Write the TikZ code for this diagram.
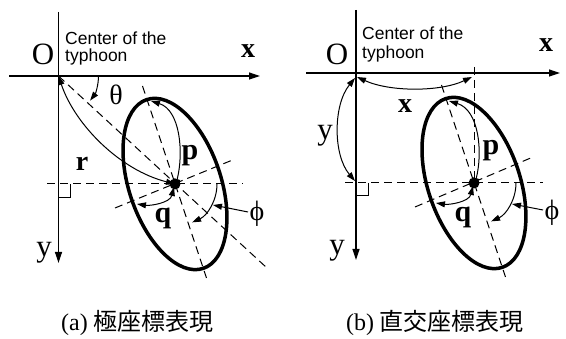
\documentclass[tikz,border=0pt]{standalone}
\usepackage{fontspec}
\setmainfont{Liberation Serif}
\newfontfamily\sansf{Liberation Sans}
\newfontfamily\cjk{Noto Sans CJK JP}
\usetikzlibrary{arrows.meta,calc}
\begin{document}
\begin{tikzpicture}[x=1pt,y=-1pt,
  axis/.style={line width=1.2pt,-{Triangle[length=11pt,width=7pt]}},
  dsh/.style={line width=1pt,dash pattern=on 8pt off 5pt},
  ell/.style={line width=3.5pt},
  dim/.style={line width=1pt,{Triangle[length=9pt,width=6pt]}-{Triangle[length=9pt,width=6pt]}},
  ang/.style={line width=1pt,-{Triangle[length=9pt,width=6pt]}},
  plainline/.style={line width=1pt},
  lab/.style={font=\fontsize{31}{33}\selectfont,inner sep=0pt,anchor=base},
  glab/.style={font=\fontsize{28}{30}\selectfont,inner sep=0pt,anchor=base},
  blab/.style={font=\fontsize{30}{32}\selectfont\bfseries,inner sep=0pt,anchor=base},
  bslab/.style={font=\fontsize{28}{30}\selectfont\bfseries,inner sep=0pt,anchor=base},
  stxt/.style={font=\sansf\fontsize{17.5}{20}\selectfont,inner sep=0pt,anchor=base west},
  captxt/.style={font=\fontsize{24}{26}\selectfont,inner sep=0pt,anchor=base}]
\useasboundingbox (0,0) rectangle (566,339);

% ---------------- left panel (a)
\coordinate (O1) at (58.5,76);
\coordinate (C1) at (175,184);
\coordinate (xs1) at (9,76);   \coordinate (xe1) at (260,76);
\coordinate (ys1) at (58.5,12); \coordinate (ye1) at (58.5,263);
\coordinate (hs1) at (47,184); \coordinate (he1) at (243,184);
\coordinate (ma1) at (142.5,86); \coordinate (mb1) at (206.5,278);
\coordinate (na1) at (115,208); \coordinate (nb1) at (235,159);
\coordinate (de1) at (267,268);
\coordinate (top1) at (151,101);
\coordinate (qe1) at (137,204);
\coordinate (fl1) at (248,212); \coordinate (ft1) at (213,205);

\draw[axis] (xs1) -- (xe1);
\draw[axis] (ys1) -- (ye1);
\draw[dsh] (hs1) -- (he1);
\draw[dsh] (ma1) -- (mb1);
\draw[dsh] (na1) -- (nb1);
\draw[dsh] (O1) -- (de1);
\draw[ell, rotate around={18.5:(C1)}] (C1) ellipse [x radius=46, y radius=89];
\fill (C1) circle[radius=5.5];
\draw[plainline] (58.5,198) -- (70,198) -- (70,184);

\draw[ang] ([shift={(40,0)}]O1) arc[start angle=0,end angle=38,radius=40];
\draw[dim] (O1) .. controls (75,125) and (120,170) .. (C1);
\draw[dim] (top1) .. controls (180,110) and (184,152) .. ([yshift=-4pt]C1);
\draw[dim] ([shift={(-1,3)}]C1) .. controls (170,203) and (150,206) .. (qe1);
\draw[ang] ([shift={(42,0)}]C1) arc[start angle=0,end angle=66,radius=42];
\draw[ang] (fl1) -- (ft1);

\node[lab]   (lO1) at (43,65) {O};
\node[bslab] (lx1) at (248,58) {x};
\node[lab]   (ly1) at (44,257) {y};
\node[glab]  (lt1) at (116,105) {θ};
\node[bslab] (lr1) at (82,171) {r};
\node[blab]  (lp1) at (190,160) {p};
\node[blab]  (lq1) at (163,223) {q};
\node[glab]  (lf1) at (257,221) {ϕ};
\node[stxt] (c1a) at (65,45) {Center of the};
\node[stxt] (c1b) at (65,62) {typhoon};
\node[captxt] (capa) at (137.5,331) {(a) {\cjk 極座標表現}};

% ---------------- right panel (b)
\coordinate (O2) at (356,73);
\coordinate (C2) at (474,183);
\coordinate (xs2) at (306,73);  \coordinate (xe2) at (560,73);
\coordinate (ys2) at (356,10);  \coordinate (ye2) at (356,260);
\coordinate (hs2) at (345,183); \coordinate (he2) at (543,183);
\coordinate (vs2) at (474,67);
\coordinate (ma2) at (441.5,85); \coordinate (mb2) at (505.5,277);
\coordinate (na2) at (415,207); \coordinate (nb2) at (533,157);
\coordinate (top2) at (449,101);
\coordinate (qe2) at (436,203);
\coordinate (xa2) at (357,77); \coordinate (xb2) at (472,77);
\coordinate (ya2) at (355,78); \coordinate (yb2) at (355,181);
\coordinate (fl2) at (543,210); \coordinate (ft2) at (512,204);

\draw[axis] (xs2) -- (xe2);
\draw[axis] (ys2) -- (ye2);
\draw[dsh] (hs2) -- (he2);
\draw[dsh] (vs2) -- (C2);
\draw[dsh] (ma2) -- (mb2);
\draw[dsh] (na2) -- (nb2);
\draw[ell, rotate around={18.5:(C2)}] (C2) ellipse [x radius=46, y radius=89];
\fill (C2) circle[radius=5.5];
\draw[plainline] (356,196) -- (368,196) -- (368,183);

\draw[dim] (xa2) .. controls (390,92) and (440,92) .. (xb2);
\draw[dim] (ya2) .. controls (333,105) and (333,155) .. (yb2);
\draw[dim] (top2) .. controls (479,110) and (483,152) .. ([yshift=-4pt]C2);
\draw[dim] ([shift={(-1,3)}]C2) .. controls (469,202) and (449,205) .. (qe2);
\draw[ang] ([shift={(42,0)}]C2) arc[start angle=0,end angle=66,radius=42];
\draw[ang] (fl2) -- (ft2);

\node[lab]   (lO2) at (337,65) {O};
\node[bslab] (lx2) at (546,52) {x};
\node[bslab] (lxa2) at (405,113) {x};
\node[lab]   (lya2) at (325,140) {y};
\node[lab]   (ly2) at (337,255) {y};
\node[blab]  (lp2) at (491,155) {p};
\node[blab]  (lq2) at (463,222) {q};
\node[glab]  (lf2) at (552,220) {ϕ};
\node[stxt] (c2a) at (362,40) {Center of the};
\node[stxt] (c2b) at (362,59) {typhoon};
\node[captxt] (capb) at (435,331) {(b) {\cjk 直交座標表現}};
\end{tikzpicture}
\end{document}
